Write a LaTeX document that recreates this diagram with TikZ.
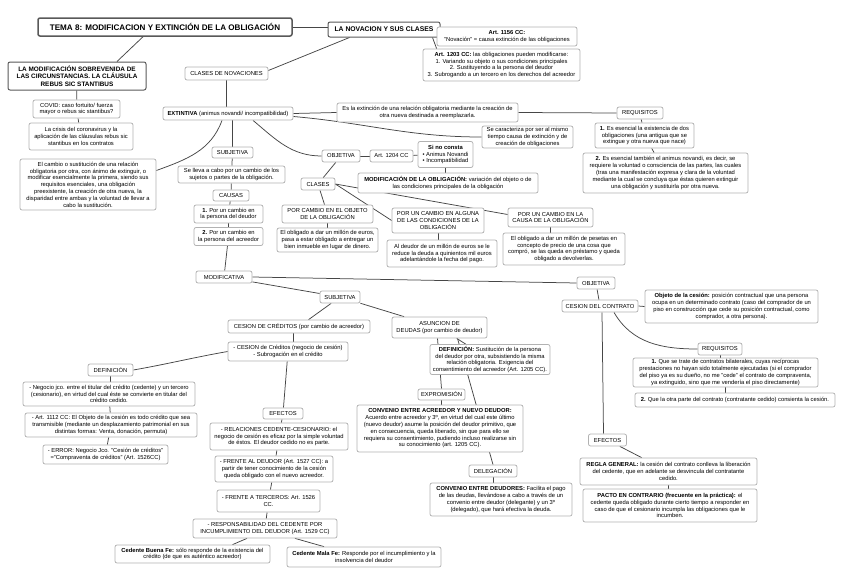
\documentclass[tikz,border=0pt]{standalone}
\usepackage{fontspec}
\setmainfont{Liberation Sans}
\usetikzlibrary{backgrounds,calc}
\newcommand\nfs{\fontsize{5.8}{6.8}\selectfont}
\tikzset{
 bx/.style={draw=gray!60, line width=0.75pt, rounded corners=2pt, fill=white, align=center, inner sep=1.2pt, font=\nfs},
 hb/.style={bx, draw=black!65, line width=1pt, font=\fontsize{6.4}{7.4}\selectfont\bfseries},
 ln/.style={draw=gray!55!black, line width=0.75pt},
}
\begin{document}
\begin{tikzpicture}[x=1pt,y=-1pt]
\useasboundingbox (0,0) rectangle (848,581);
% ---------- top ----------
\node[hb, line width=1.5pt, minimum width=254pt, minimum height=18pt, font=\fontsize{8.1}{9}\selectfont\bfseries] (title) at (165,27) {TEMA 8: MODIFICACION Y EXTINCIÓN DE LA OBLIGACIÓN};
\node[hb, minimum width=112pt, minimum height=15pt, font=\fontsize{6.8}{7.6}\selectfont\bfseries] (nov) at (384,29.5) {LA NOVACION Y SUS CLASES};
\node[bx, minimum width=140pt, minimum height=19pt] (a1156) at (507,36.5) {\textbf{Art. 1156 CC:}\\"Novación" = causa extinción de las obligaciones};
\node[bx, minimum width=157pt, minimum height=32pt] (a1203) at (501.5,65) {\textbf{Art. 1203 CC:} las obligaciones pueden modificarse:\\1. Variando su objeto o sus condiciones principales\\2. Sustituyendo a la persona del deudor\\3. Subrogando a un tercero en los derechos del acreedor};
% ---------- left column ----------
\node[hb, minimum width=138pt, minimum height=28pt] (modsob) at (77,76) {LA MODIFICACIÓN SOBREVENIDA DE\\LAS CIRCUNSTANCIAS. LA CLÁUSULA\\REBUS SIC STANTIBUS};
\node[bx, minimum width=87pt, minimum height=18pt] (covid) at (76.5,109) {COVID: caso fortuito/ fuerza\\mayor o rebus sic stantibus?};
\node[bx, minimum width=104pt, minimum height=27pt] (crisis) at (81,136.5) {La crisis del coronavirus y la\\aplicación de las cláusulas rebus sic\\stantibus en los contratos};
\node[bx, minimum width=136pt, minimum height=51pt] (cambio) at (88,184.5) {El cambio o sustitución de una relación\\obligatoria por otra, con ánimo de extinguir, o\\modificar esencialmente la primera, siendo sus\\requisitos esenciales, una obligación\\preexistente, la creación de otra nueva, la\\disparidad entre ambas y la voluntad de llevar a\\cabo la sustitución.};
% ---------- clases de novaciones ----------
\node[bx, minimum width=83pt, minimum height=13pt] (clasnov) at (226.5,73.5) {CLASES DE NOVACIONES};
\node[bx, minimum width=130pt, minimum height=13pt] (extint) at (228,113.5) {\textbf{EXTINTIVA} (animus novandi/ incompatibilidad)};
\node[bx, minimum width=181pt, minimum height=19pt] (extdef) at (427.5,112.5) {Es la extinción de una relación obligatoria mediante la creación de\\otra nueva destinada a reemplazarla.};
\node[bx, minimum width=91pt, minimum height=22pt] (caract) at (527.5,137) {Se caracteriza por ser al mismo\\tiempo causa de extinción y de\\creación de obligaciones};
\node[bx, minimum width=46pt, minimum height=12pt] (req1) at (640,113) {REQUISITOS};
\node[bx, minimum width=99pt, minimum height=25pt] (req1a) at (644.5,135.5) {\textbf{1.} Es esencial la existencia de dos\\obligaciones (una antigua que se\\extingue y otra nueva que nace)};
\node[bx, minimum width=165pt, minimum height=40pt] (req1b) at (665.5,173) {\textbf{2.} Es esencial también el animus novandi, es decir, se\\requiere la voluntad o consciencia de las partes, las cuales\\(tras una manifestación expresa y clara de la voluntad\\mediante la cual se concluya que éstas quieren extinguir\\una obligación y sustituirla por otra nueva.};
% subjetiva (extintiva)
\node[bx, minimum width=41pt, minimum height=11pt] (subj1) at (232.5,152.5) {SUBJETIVA};
\node[bx, minimum width=107pt, minimum height=17pt] (sellev) at (231.5,174.5) {Se lleva a cabo por un cambio de los\\sujetos o partes de la obligación.};
\node[bx, minimum width=36pt, minimum height=11pt] (causas) at (231,195.5) {CAUSAS};
\node[bx, minimum width=69pt, minimum height=18pt] (causa1) at (228.5,214) {\textbf{1.} Por un cambio en\\la persona del deudor};
\node[bx, minimum width=69pt, minimum height=18pt] (causa2) at (228.5,236.5) {\textbf{2.} Por un cambio en\\la persona del acreedor};
% objetiva (extintiva)
\node[bx, minimum width=38pt, minimum height=12pt] (obj1) at (341,156) {OBJETIVA};
\node[bx, minimum width=43pt, minimum height=12pt] (a1204) at (391.5,156) {Art. 1204 CC};
\node[bx, minimum width=55pt, minimum height=26pt] (sinocon) at (445.5,154.5) {\textbf{Si no consta}\\• Animus Novandi\\• Incompatibilidad};
\node[bx, minimum width=180pt, minimum height=20pt] (modobl) at (448,183) {\textbf{MODIFICACIÓN DE LA OBLIGACIÓN:} variación del objeto o de\\las condiciones principales de la obligación};
\node[bx, minimum width=34pt, minimum height=12pt] (clases) at (318,184) {CLASES};
\node[bx, minimum width=91pt, minimum height=18pt] (pobj) at (327.5,214) {POR CAMBIO EN EL OBJETO\\DE LA OBLIGACIÓN};
\node[bx, minimum width=101pt, minimum height=24pt] (pobjex) at (327.5,240) {El obligado a dar un millón de euros,\\pasa a estar obligado a entregar un\\bien inmueble en lugar de dinero.};
\node[bx, minimum width=92pt, minimum height=25pt] (palg) at (438,220.5) {POR UN CAMBIO EN ALGUNA\\DE LAS CONDICIONES DE LA\\OBLIGACIÓN};
\node[bx, minimum width=110pt, minimum height=27pt] (palgex) at (442,253.5) {Al deudor de un millón de euros se le\\reduce la deuda a quinientos mil euros\\adelantándole la fecha del pago.};
\node[bx, minimum width=85pt, minimum height=19pt] (pcau) at (550.5,217.5) {POR UN CAMBIO EN LA\\CAUSA DE LA OBLIGACIÓN};
\node[bx, minimum width=122pt, minimum height=32pt] (pcauex) at (564,249) {El obligado a dar un millón de pesetas en\\concepto de precio de una cosa que\\compró, se las queda en préstamo y queda\\obligado a devolverlas.};
% ---------- modificativa ----------
\node[bx, minimum width=56pt, minimum height=12pt] (modif) at (224,277) {MODIFICATIVA};
\node[bx, minimum width=40pt, minimum height=12pt] (subj2) at (340,297) {SUBJETIVA};
\node[bx, minimum width=142pt, minimum height=13pt] (cesc) at (299,326.5) {CESION DE CRÉDITOS (por cambio de acreedor)};
\node[bx, minimum width=95pt, minimum height=21pt] (asun) at (439.5,327.5) {ASUNCION DE\\DEUDAS (por cambio de deudor)};
\node[bx, minimum width=120pt, minimum height=19pt] (cescsub) at (288,351.5) {- CESION de Créditos (negocio de cesión)\\- Subrogación en el crédito};
\node[bx, minimum width=45pt, minimum height=12pt] (defin) at (110.5,370) {DEFINICIÓN};
\node[bx, minimum width=172pt, minimum height=24pt] (d1) at (109,394) {- Negocio jco. entre el titular del crédito (cedente) y un tercero\\(cesionario), en virtud del cual éste se convierte en titular del\\crédito cedido.};
\node[bx, minimum width=172pt, minimum height=24pt] (d2) at (111,425) {- Art. 1112 CC: El Objeto de la cesión es todo crédito que sea\\transmisible (mediante un desplazamiento patrimonial en sus\\distintas formas: Venta, donación, permuta)};
\node[bx, minimum width=125pt, minimum height=19pt] (d3) at (105.5,454.5) {- ERROR: Negocio Jco. "Cesión de créditos"\\="Compraventa de créditos" (Art. 1526CC)};
\node[bx, minimum width=40pt, minimum height=11pt] (efec1) at (283,413.5) {EFECTOS};
\node[bx, minimum width=138pt, minimum height=27pt] (e1) at (279,436.5) {- RELACIONES CEDENTE-CESIONARIO: el\\negocio de cesión es eficaz por la simple voluntad\\de éstos. El deudor cedido no es parte.};
\node[bx, minimum width=118pt, minimum height=26pt] (e2) at (274,469) {- FRENTE AL DEUDOR (Art. 1527 CC): a\\partir de tener conocimiento de la cesión\\queda obligado con el nuevo acreedor.};
\node[bx, minimum width=103pt, minimum height=22pt] (e3) at (268.5,501) {- FRENTE A TERCEROS: Art. 1526\\CC.};
\node[bx, minimum width=144pt, minimum height=19pt] (e4) at (265,528.5) {- RESPONSABILIDAD DEL CEDENTE POR\\INCUMPLIMIENTO DEL DEUDOR (Art. 1529 CC)};
\node[bx, minimum width=155pt, minimum height=18pt] (buena) at (192.5,554) {\textbf{Cedente Buena Fe:} sólo responde de la existencia del\\crédito (de que es auténtico acreedor)};
\node[bx, minimum width=154pt, minimum height=20pt] (mala) at (364,557) {\textbf{Cedente Mala Fe:} Responde por el incumplimiento y la\\insolvencia del deudor};
% asuncion de deudas
\node[bx, minimum width=120pt, minimum height=30pt] (asdef) at (490,359.5) {\textbf{DEFINICIÓN:} Sustitución de la persona\\del deudor por otra, subsistiendo la misma\\relación obligatoria. Exigencia del\\consentimiento del acreedor (Art. 1205 CC).};
\node[bx, minimum width=47pt, minimum height=11pt] (exprom) at (441.5,394.5) {EXPROMISIÓN};
\node[bx, minimum width=166pt, minimum height=47pt] (conv1) at (440,428.5) {\textbf{CONVENIO ENTRE ACREEDOR Y NUEVO DEUDOR:}\\Acuerdo entre acreedor y 3º, en virtud del cual este último\\(nuevo deudor) asume la posición del deudor primitivo, que\\en consecuencia, queda liberado, sin que para ello se\\requiera su consentimiento, pudiendo incluso realizarse sin\\su conocimiento (art. 1205 CC).};
\node[bx, minimum width=48pt, minimum height=12pt] (deleg) at (493,471) {DELEGACIÓN};
\node[bx, minimum width=142pt, minimum height=33pt] (conv2) at (501,499.5) {\textbf{CONVENIO ENTRE DEUDORES:} Facilita el pago\\de las deudas, llevándose a cabo a través de un\\convenio entre deudor (delegante) y un 3º\\(delegado), que hará efectiva la deuda.};
% objetiva (modificativa)
\node[bx, minimum width=38pt, minimum height=12pt] (obj2) at (596,283) {OBJETIVA};
\node[bx, minimum width=76pt, minimum height=12pt] (cescon) at (600,306) {CESION DEL CONTRATO};
\node[bx, minimum width=173pt, minimum height=33pt] (objces) at (731.5,306.5) {\textbf{Objeto de la cesión:} posición contractual que una persona\\ocupa en un determinado contrato (caso del comprador de un\\piso en construcción que cede su posición contractual, como\\comprador, a otra persona).};
\node[bx, minimum width=44pt, minimum height=12pt] (req2) at (720,349) {REQUISITOS};
\node[bx, minimum width=185pt, minimum height=29pt] (r2a) at (725.5,372.5) {\textbf{1.} Que se trate de contratos bilaterales, cuyas recíprocas\\prestaciones no hayan sido totalmente ejecutadas (si el comprador\\del piso ya es su dueño, no me "cede" el contrato de compraventa,\\ya extinguido, sino que me vendería el piso directamente)};
\node[bx, minimum width=200pt, minimum height=14pt] (r2b) at (735,400) {\textbf{2.} Que la otra parte del contrato (contratante cedido) consienta la cesión.};
\node[bx, minimum width=38pt, minimum height=12pt] (efec2) at (607.5,440) {EFECTOS};
\node[bx, minimum width=177pt, minimum height=27pt] (rg) at (668.5,471.5) {\textbf{REGLA GENERAL:} la cesión del contrato conlleva la liberación\\del cedente, que en adelante se desvincula del contratante\\cedido.};
\node[bx, minimum width=174pt, minimum height=33pt] (pacto) at (670,505.5) {\textbf{PACTO EN CONTRARIO (frecuente en la práctica):} el\\cedente queda obligado durante cierto tiempo a responder en\\caso de que el cesionario incumpla las obligaciones que le\\incumben.};
% ---------- connectors ----------
\begin{scope}[on background layer]
\draw[ln] (title.east) -- (nov.west |- title.east);
\draw[ln] ($(title.south)+(-22,0)$) -- ($(modsob.north)+(40,0)$);
\draw[ln] (nov.east |- a1156.west) -- (a1156.west);
\draw[ln] ($(nov.south east)+(-8,0)$) -- ($(a1203.north west)+(14,0)$);
\draw[ln] ($(nov.south west)+(22,0)$) -- ($(clasnov.east)+(0,-3)$);
\draw[ln] (modsob) -- (covid);
\draw[ln] (covid) -- (crisis);
\draw[ln] (clasnov) -- (clasnov |- extint.north);
\draw[ln] ($(extint.south)+(-6,0)$) to[out=250,in=20] ($(cambio.east)+(0,-14)$);
\draw[ln] (extint.east) -- (extdef.west);
\draw[ln] (extdef.east) -- (req1.west);
\draw[ln] ($(extint.east)+(0,3)$) to[out=-5,in=180] (caract.west);
\draw[ln] (req1) -- (req1a);
\draw[ln] (req1a) -- (req1b);
\draw[ln] (subj1 |- extint.south) -- (subj1.north);
\draw[ln] (subj1) -- (sellev);
\draw[ln] (sellev) -- (causas);
\draw[ln] (causas) -- (causa1);
\draw[ln] (causa1) -- (causa2);
\draw[ln] (causa2) -- (modif);
\draw[ln] ($(extint.south)+(25,0)$) to[out=-40,in=180] (obj1.west);
\draw[ln] (obj1) -- (a1204);
\draw[ln] (a1204) -- (sinocon);
\draw[ln] (sinocon) -- (sinocon |- modobl.north);
\draw[ln] (obj1) -- (clases);
\draw[ln] (clases) -- (pobj);
\draw[ln] (clases.east) -- (palg.west);
\draw[ln] (clases.east) -- ($(pcau.west)+(0,-3)$);
\draw[ln] (pobj) -- (pobjex);
\draw[ln] (palg) -- (palg |- palgex.north);
\draw[ln] (pcau) -- (pcau |- pcauex.north);
\draw[ln] (modif.east) -- (obj2.west);
\draw[ln] (modif) -- (subj2);
\draw[ln] (subj2) -- (cesc);
\draw[ln] (subj2) -- (asun);
\draw[ln] ($(cesc.south)+(-6,0)$) -- ($(cescsub.north)+(5,0)$);
\draw[ln] (cescsub.west) to[out=190,in=10] (defin.east);
\draw[ln] (defin) -- (defin |- d1.north);
\draw[ln] (d1) -- (d2);
\draw[ln] (d2) -- (d3);
\draw[ln] (cescsub) -- (efec1);
\draw[ln] (efec1) -- (e1);
\draw[ln] (e1) -- (e2);
\draw[ln] (e2) -- (e3);
\draw[ln] (e3) -- (e4);
\draw[ln] ($(e4.south)+(-18,0)$) -- ($(buena.north)+(40,0)$);
\draw[ln] ($(e4.south)+(30,0)$) -- ($(mala.north)+(-40,0)$);
\draw[ln] (asun) -- (asdef);
\draw[ln] ($(asun.south)+(-2,0)$) -- (exprom.north);
\draw[ln] ($(asun.south)+(18,0)$) -- (deleg.north);
\draw[ln] (exprom) -- (exprom |- conv1.north);
\draw[ln] (deleg) -- (deleg |- conv2.north);
\draw[ln] (obj2) -- (cescon);
\draw[ln] (cescon.east) -- (objces.west);
\draw[ln] ($(cescon.south)+(14,0)$) to[out=-60,in=180] (req2.west);
\draw[ln] (req2) -- (req2 |- r2a.north);
\draw[ln] (r2a) -- (r2a |- r2b.north);
\draw[ln] ($(cescon.south)+(2,0)$) -- ($(efec2.north)+(-4,0)$);
\draw[ln] (efec2) -- (rg);
\draw[ln] (rg) -- (rg |- pacto.north);
\end{scope}
\end{tikzpicture}
\end{document}
